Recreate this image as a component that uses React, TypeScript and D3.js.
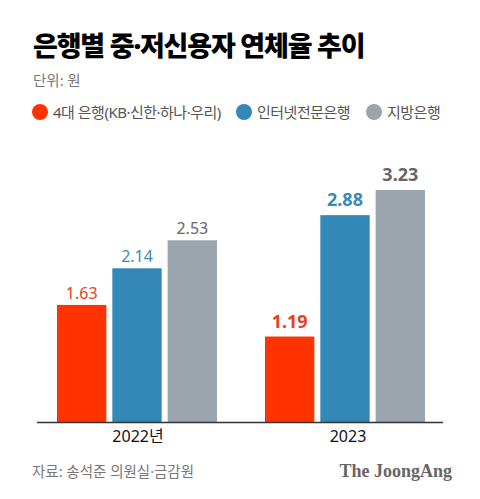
import * as d3 from 'd3';
import { FC, useEffect, useRef } from 'react';

const years = ['2022년', '2023'];
const seriesNames = ['4대 은행(KB·신한·하나·우리)', '인터넷전문은행', '지방은행'];
const seriesColors = ['#ff3300', '#3388b5', '#9ba5ad'];
const labelColors = ['#e8401c', '#3a8ab8', '#666666'];
const values2022 = [1.63, 2.14, 2.53];
const values2023 = [1.19, 2.88, 3.23];
const valuesByYear = [values2022, values2023];

// Latin font first so the middle dot and digits stay narrow, Hangul falls back
const FONT = '"Noto Sans", "Noto Sans CJK KR", sans-serif';

const App: FC = () => {
  const ref = useRef<SVGSVGElement>(null);

  useEffect(() => {
    const svg = d3.select(ref.current);
    svg.selectAll('*').remove();

    const baseY = 422;

    const x0 = d3.scaleBand<string>().domain(years).range([33, 449]).padding(0);
    const x1 = d3
      .scaleBand<string>()
      .domain(seriesNames)
      .range([24, 184])
      .paddingInner(0.108);
    const y = d3.scaleLinear().domain([0, 3.23]).range([baseY, 190]);

    // title block
    svg
      .append('text')
      .attr('x', 33)
      .attr('y', 56)
      .attr('font-size', 27)
      .attr('font-weight', 900)
      .attr('letter-spacing', -1.2)
      .attr('fill', '#000')
      .text('은행별 중·저신용자 연체율 추이');

    svg
      .append('text')
      .attr('x', 33)
      .attr('y', 86)
      .attr('font-size', 14.5)
      .attr('fill', '#777')
      .text('단위: 원');

    // legend
    const legendX = [40, 244, 374];
    const legend = svg
      .selectAll('g.legend')
      .data(seriesNames)
      .enter()
      .append('g')
      .attr('class', 'legend')
      .attr('transform', (_, i) => `translate(${legendX[i]},112)`);
    legend
      .append('circle')
      .attr('r', 8)
      .attr('fill', (_, i) => seriesColors[i]);
    legend
      .append('text')
      .attr('x', 13)
      .attr('y', 5.5)
      .attr('font-size', 15)
      .attr('letter-spacing', -0.5)
      .attr('fill', '#555')
      .text((d) => d);

    // bars
    years.forEach((yr, yi) => {
      const g = svg.append('g').attr('transform', `translate(${x0(yr)},0)`);
      const vals = valuesByYear[yi];
      const bold = yi === 1;
      g.selectAll('rect')
        .data(vals)
        .enter()
        .append('rect')
        .attr('x', (_, i) => x1(seriesNames[i]) as number)
        .attr('y', (d) => y(d))
        .attr('width', x1.bandwidth())
        .attr('height', (d) => baseY - y(d))
        .attr('fill', (_, i) => seriesColors[i]);
      g.selectAll('text.val')
        .data(vals)
        .enter()
        .append('text')
        .attr('class', 'val')
        .attr('x', (_, i) => (x1(seriesNames[i]) as number) + x1.bandwidth() / 2)
        .attr('y', (d) => y(d) - (bold ? 9 : 6))
        .attr('text-anchor', 'middle')
        .attr('font-size', bold ? 18 : 16)
        .attr('font-weight', bold ? 700 : 400)
        .attr('fill', (_, i) => labelColors[i])
        .text((d) => d.toFixed(2));
    });

    // axis
    svg
      .append('line')
      .attr('x1', 37)
      .attr('x2', 443)
      .attr('y1', baseY + 0.5)
      .attr('y2', baseY + 0.5)
      .attr('stroke', '#333')
      .attr('stroke-width', 1.5);

    svg
      .selectAll('text.year')
      .data(years)
      .enter()
      .append('text')
      .attr('class', 'year')
      .attr('x', (d, i) => (x0(d) as number) + x0.bandwidth() / 2 + (i === 1 ? 3 : 1))
      .attr('y', 442)
      .attr('text-anchor', 'middle')
      .attr('font-size', 16)
      .attr('fill', '#111')
      .text((d) => d);

    // footer
    svg
      .append('text')
      .attr('x', 32)
      .attr('y', 477)
      .attr('font-size', 14.5)
      .attr('fill', '#777')
      .text('자료: 송석준 의원실·금감원');

    svg
      .append('text')
      .attr('x', 452)
      .attr('y', 477)
      .attr('text-anchor', 'end')
      .attr('font-family', '"Liberation Serif", "DejaVu Serif", serif')
      .attr('font-size', 18)
      .attr('font-weight', 700)
      .attr('fill', '#666')
      .text('The JoongAng');
  }, []);

  return (
    <div style={{ position: 'absolute', left: 0, top: 0 }}>
      <svg
        ref={ref}
        width={480}
        height={499}
        style={{ display: 'block', background: '#fff', fontFamily: FONT }}
      />
    </div>
  );
};

export default App;
